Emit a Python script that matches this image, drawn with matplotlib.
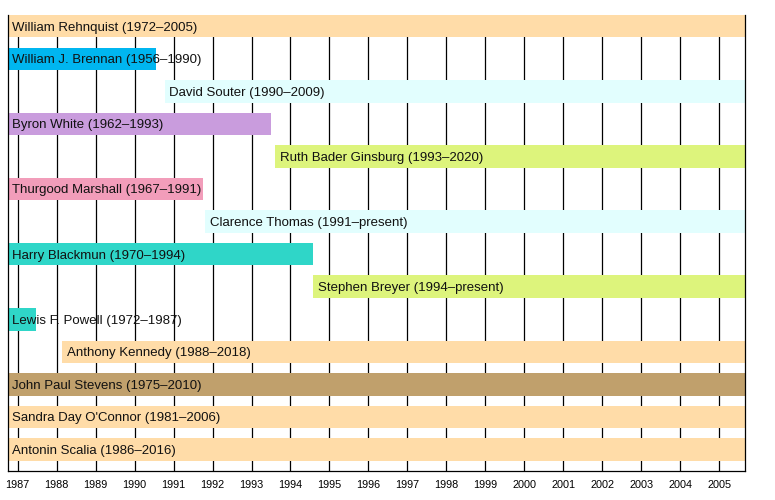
import matplotlib
matplotlib.use('Agg')
import matplotlib.pyplot as plt

# justices on the court, top row first; dates as decimal years
names = ["William Rehnquist (1972–2005)", "William J. Brennan (1956–1990)",
         "David Souter (1990–2009)", "Byron White (1962–1993)",
         "Ruth Bader Ginsburg (1993–2020)", "Thurgood Marshall (1967–1991)",
         "Clarence Thomas (1991–present)", "Harry Blackmun (1970–1994)",
         "Stephen Breyer (1994–present)", "Lewis F. Powell (1972–1987)",
         "Anthony Kennedy (1988–2018)", "John Paul Stevens (1975–2010)",
         "Sandra Day O'Connor (1981–2006)", "Antonin Scalia (1986–2016)"]
start = [1986.74, 1986.74, 1990.77, 1986.74, 1993.61, 1986.74, 1991.81,
         1986.74, 1994.59, 1986.74, 1988.13, 1986.74, 1986.74, 1986.74]
end = [2005.67, 1990.55, 2005.67, 1993.49, 2005.67, 1991.75, 2005.67,
       1994.59, 2005.67, 1987.48, 2005.67, 2005.67, 2005.67, 2005.67]
colors = ["#FFDCA8", "#00B6F0", "#E2FEFE", "#C99CDD", "#DDF47C", "#F29DBA",
          "#E2FEFE", "#2FD6C8", "#DDF47C", "#2FD6C8", "#FFDCA8", "#C0A06C",
          "#FFDCA8", "#FFDCA8"]
years = list(range(1987, 2006))

plt.rcParams['font.family'] = ['Liberation Sans', 'DejaVu Sans']

fig = plt.figure(figsize=(7.75, 5), dpi=100)
ax = fig.add_axes([0.0097, 0.0586, 0.9520, 0.9114])

for y in years:
    ax.axvline(y, color='black', lw=0.9, zorder=1)

rows = range(len(names))
ax.barh(list(rows), [e - s for s, e in zip(start, end)], left=start,
        height=0.69, color=colors, zorder=2)
for i in rows:
    ax.annotate(names[i], (start[i], i), xytext=(3.5, -1), textcoords='offset points',
                va='center', ha='left', fontsize=9.5, color='#111111', zorder=3)

ax.set_xlim(1986.74, 2005.67)
ax.set_ylim(13.65, -0.345)
ax.set_yticks([])
ax.set_xticks(years)
ax.set_xticklabels([str(y) for y in years], fontsize=7.8)
ax.tick_params(axis='x', length=0, pad=7)
ax.spines['top'].set_visible(False)
for s in ['left', 'right', 'bottom']:
    ax.spines[s].set_linewidth(0.9)

fig.savefig('out.png', dpi=100)
